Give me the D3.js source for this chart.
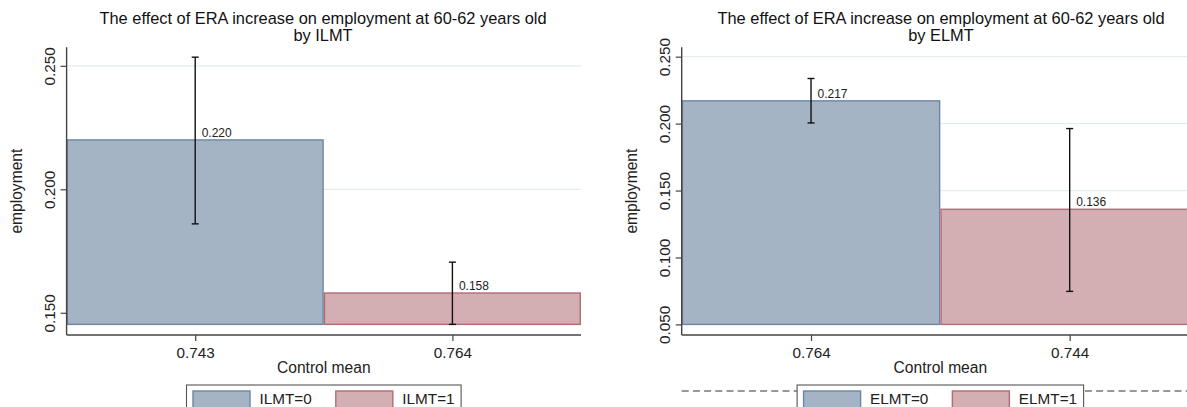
<!DOCTYPE html>
<html>
<head>
<meta charset="utf-8">
<script src="https://cdn.jsdelivr.net/npm/d3@7"></script>
<style>
  html, body { margin: 0; padding: 0; background: #fff; }
  svg { display: block; font-family: "Liberation Sans", Arial, sans-serif; }
</style>
</head>
<body>
<svg id="chart" width="1187" height="407"></svg>
<script>
// ---- Data: ERA increase effect on employment, split by ILMT ----
const ilmtGroups = ["ILMT=0", "ILMT=1"];
const ilmtControlMeans = ["0.743", "0.764"];
const ilmtEffects = [0.220, 0.158];
const ilmtCiLow = [0.186, 0.1453];
const ilmtCiHigh = [0.2535, 0.1705];
const ilmtBase = 0.1453;
const ilmtTicks = [0.150, 0.200, 0.250];

// ---- Data: ERA increase effect on employment, split by ELMT ----
const elmtGroups = ["ELMT=0", "ELMT=1"];
const elmtControlMeans = ["0.764", "0.744"];
const elmtEffects = [0.217, 0.136];
const elmtCiLow = [0.2005, 0.0747];
const elmtCiHigh = [0.2337, 0.1963];
const elmtBase = 0.050;
const elmtTicks = [0.050, 0.100, 0.150, 0.200, 0.250];

const titleLine1 = "The effect of ERA increase on employment at 60-62 years old";

const fills = ["#a5b4c5", "#d3aeb2"];
const strokes = ["#6c87a2", "#b56b74"];

const svg = d3.select("#chart");

function drawPanel(cfg) {
  const g = svg.append("g");
  const x = d3.scaleLinear().domain([-0.5, 1.5]).range([cfg.x0, cfg.x1]);
  const y = d3.scaleLinear().domain(cfg.yDomain).range([cfg.yBot, cfg.yTop]);

  // two-line title
  g.append("text")
    .attr("x", cfg.titleX).attr("y", 24.3)
    .attr("text-anchor", "middle")
    .attr("font-size", 16.4).attr("fill", "#111")
    .text(titleLine1);
  g.append("text")
    .attr("x", cfg.titleX).attr("y", 41)
    .attr("text-anchor", "middle")
    .attr("font-size", 16.4).attr("fill", "#111")
    .text("by " + cfg.by);

  // gridlines
  g.append("g").selectAll("line").data(cfg.ticks).join("line")
    .attr("x1", cfg.x0).attr("x2", cfg.x1)
    .attr("y1", d => y(d)).attr("y2", d => y(d))
    .attr("stroke", "#e4ecee").attr("stroke-width", 1.2);

  // bars
  const idx = d3.range(cfg.effects.length);
  g.append("g").selectAll("rect").data(idx).join("rect")
    .attr("x", i => x(i - 0.5) + 0.7)
    .attr("width", i => x(i + 0.5) - x(i - 0.5) - 1.4)
    .attr("y", i => y(cfg.effects[i]))
    .attr("height", i => y(cfg.base) - y(cfg.effects[i]))
    .attr("fill", i => fills[i])
    .attr("stroke", i => strokes[i])
    .attr("stroke-width", 1.4);

  // confidence intervals
  const eb = g.append("g").attr("stroke", "#111").attr("stroke-width", 1.4);
  idx.forEach(i => {
    const cx = x(i);
    eb.append("line").attr("x1", cx).attr("x2", cx)
      .attr("y1", y(cfg.ciLow[i])).attr("y2", y(cfg.ciHigh[i]));
    [cfg.ciLow[i], cfg.ciHigh[i]].forEach(v => {
      eb.append("line").attr("x1", cx - 3.5).attr("x2", cx + 3.5)
        .attr("y1", y(v)).attr("y2", y(v));
    });
  });

  // value labels
  g.append("g").selectAll("text").data(idx).join("text")
    .attr("x", i => x(i) + 6.5)
    .attr("y", i => y(cfg.effects[i]) - 3.3)
    .attr("font-size", 12).attr("fill", "#222")
    .text(i => d3.format(".3f")(cfg.effects[i]));

  // y axis
  const yAxis = g.append("g")
    .attr("transform", `translate(${cfg.x0},0)`)
    .call(d3.axisLeft(y).tickValues(cfg.ticks).tickSize(6).tickFormat(d3.format(".3f")));
  yAxis.select(".domain").remove();
  yAxis.attr("font-family", null);
  yAxis.selectAll(".tick line").attr("stroke", "#444").attr("stroke-width", 1.2);
  yAxis.selectAll(".tick text")
    .attr("transform", "rotate(-90)")
    .attr("x", 0).attr("dy", 0).attr("y", -11.6)
    .attr("text-anchor", "middle")
    .attr("font-size", 15.3).attr("fill", "#222");
  g.append("line").attr("x1", cfg.x0).attr("x2", cfg.x0)
    .attr("y1", cfg.yTop).attr("y2", cfg.yBot)
    .attr("stroke", "#444").attr("stroke-width", 1.4);

  // x axis
  const xAxis = g.append("g")
    .attr("transform", `translate(0,${cfg.yBot})`)
    .call(d3.axisBottom(x).tickValues(idx).tickSize(6).tickFormat(i => cfg.controlMeans[i]));
  xAxis.select(".domain").remove();
  xAxis.attr("font-family", null);
  xAxis.selectAll(".tick line").attr("stroke", "#444").attr("stroke-width", 1.2);
  xAxis.selectAll(".tick text")
    .attr("y", 23.3).attr("dy", 0)
    .attr("font-size", 15.3).attr("fill", "#222");
  g.append("line").attr("x1", cfg.x0).attr("x2", cfg.x1)
    .attr("y1", cfg.yBot).attr("y2", cfg.yBot)
    .attr("stroke", "#444").attr("stroke-width", 1.4);

  // axis titles
  g.append("text")
    .attr("x", (cfg.x0 + cfg.x1) / 2).attr("y", 373)
    .attr("text-anchor", "middle").attr("font-size", 15.6).attr("fill", "#222")
    .text("Control mean");
  g.append("text")
    .attr("transform", `translate(${cfg.yTitleX},${(cfg.yTop + cfg.yBot) / 2}) rotate(-90)`)
    .attr("text-anchor", "middle").attr("font-size", 15.6).attr("fill", "#222")
    .text("employment");

  // dashed rule behind the legend
  if (cfg.rule) {
    g.append("line").attr("x1", cfg.x0).attr("x2", 1187)
      .attr("y1", 391).attr("y2", 391)
      .attr("stroke", "#777").attr("stroke-width", 1.5)
      .attr("stroke-dasharray", "7,4.2");
  }

  // legend
  const leg = g.append("g");
  const box = leg.append("rect").attr("fill", "#fff").attr("stroke", "#555").attr("stroke-width", 1.1);
  const items = leg.append("g");
  let cursor = 0;
  cfg.groups.forEach((name, i) => {
    items.append("rect").attr("x", cursor).attr("y", 391)
      .attr("width", 57).attr("height", 17)
      .attr("fill", fills[i]).attr("stroke", strokes[i]).attr("stroke-width", 1.4);
    const tx = items.append("text").attr("x", cursor + 66.5).attr("y", 404)
      .attr("font-size", 15.3).attr("fill", "#222").text(name);
    cursor += 66.5 + tx.node().getComputedTextLength() + 24;
  });
  const legW = cursor - 24 + 6.5 + 6.5;
  const legX = (cfg.x0 + cfg.x1) / 2 - legW / 2;
  items.attr("transform", `translate(${legX + 6.5},0)`);
  box.attr("x", legX).attr("y", 385).attr("width", legW).attr("height", 40);
}

drawPanel({
  by: "ILMT", groups: ilmtGroups, controlMeans: ilmtControlMeans,
  effects: ilmtEffects, ciLow: ilmtCiLow, ciHigh: ilmtCiHigh,
  base: ilmtBase, ticks: ilmtTicks,
  yDomain: [0.1410, 0.2575],
  x0: 66.6, x1: 581, yTop: 47.3, yBot: 335, titleX: 323, yTitleX: 21.5, rule: false
});

drawPanel({
  by: "ELMT", groups: elmtGroups, controlMeans: elmtControlMeans,
  effects: elmtEffects, ciLow: elmtCiLow, ciHigh: elmtCiHigh,
  base: elmtBase, ticks: elmtTicks,
  yDomain: [0.0421, 0.2570],
  x0: 681.7, x1: 1199, yTop: 47.3, yBot: 335, titleX: 941, yTitleX: 636.5, rule: true
});
</script>
</body>
</html>
